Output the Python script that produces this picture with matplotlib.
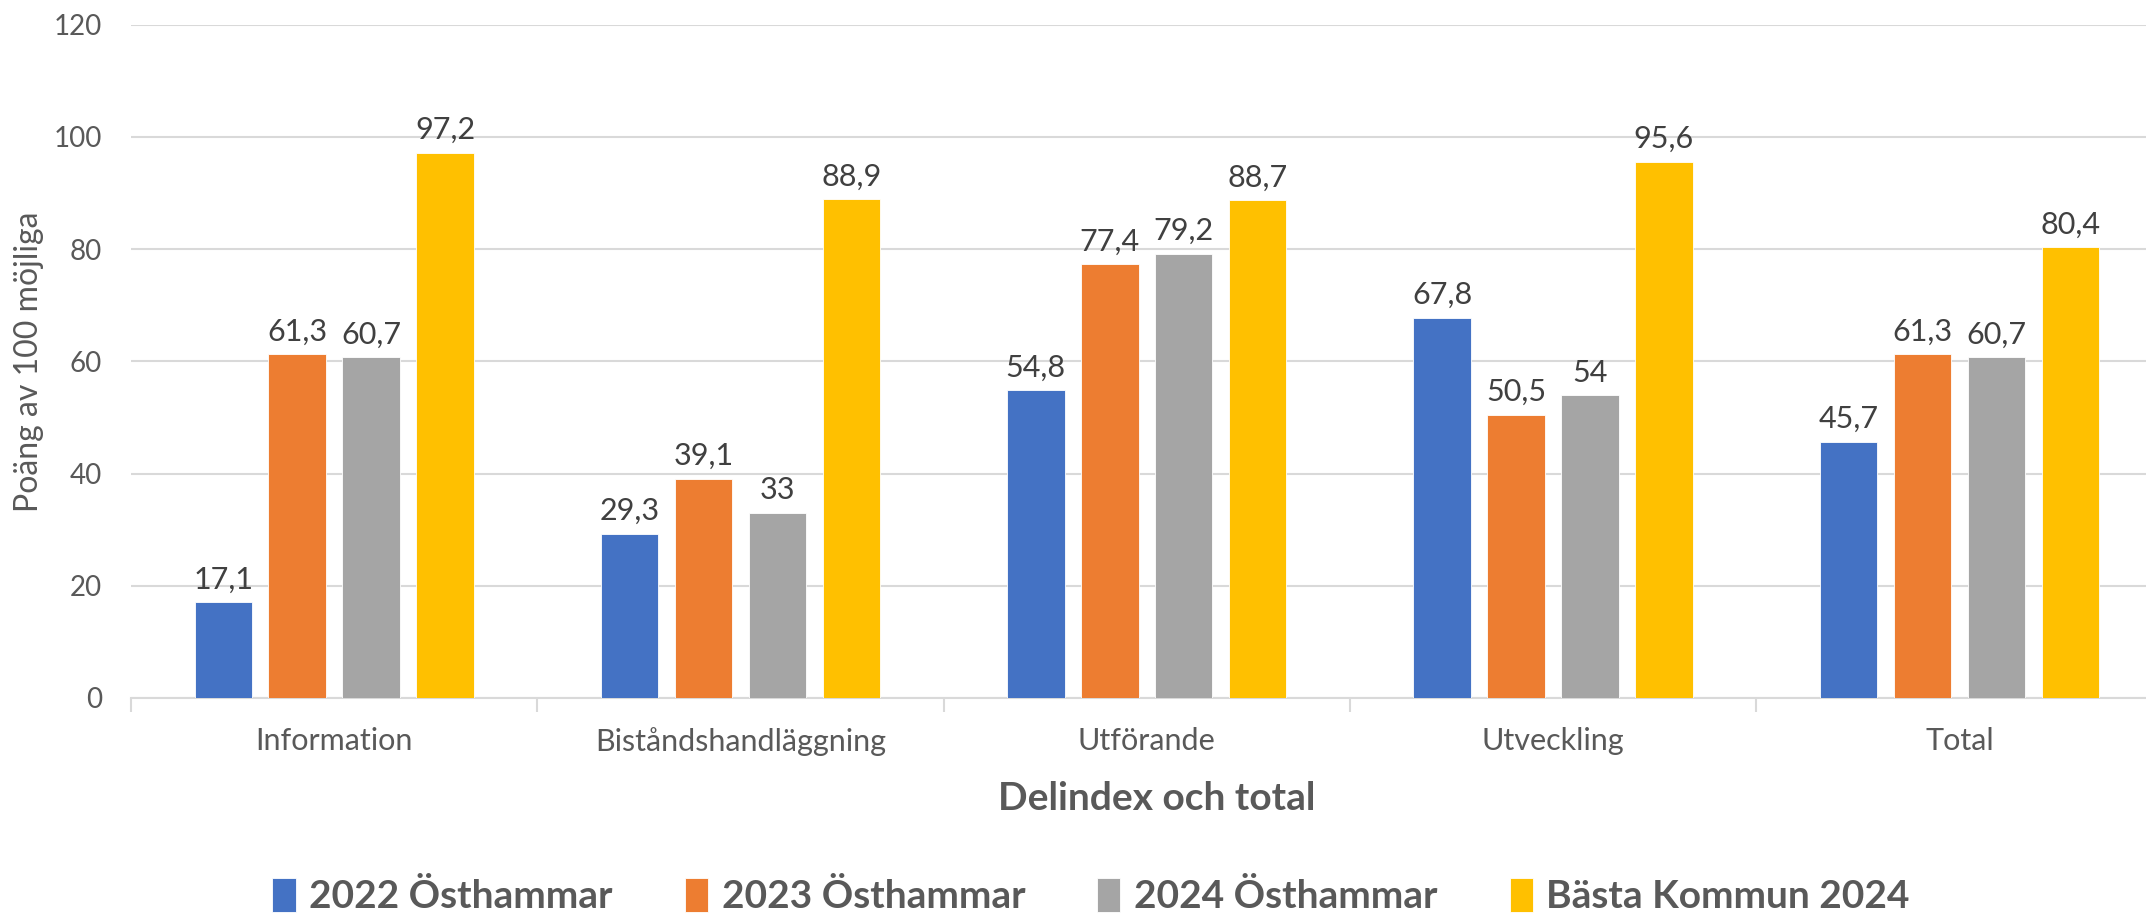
import matplotlib
matplotlib.use("Agg")
import matplotlib.pyplot as plt
import numpy as np

categories = ["Information", "Biståndshandläggning", "Utförande", "Utveckling", "Total"]
series_names = ["2022 Östhammar", "2023 Östhammar", "2024 Östhammar", "Bästa Kommun 2024"]
v2022 = [17.1, 29.3, 54.8, 67.8, 45.7]
v2023 = [61.3, 39.1, 77.4, 50.5, 61.3]
v2024 = [60.7, 33.0, 79.2, 54.0, 60.7]
vbest = [97.2, 88.9, 88.7, 95.6, 80.4]
yticks = [0, 20, 40, 60, 80, 100, 120]

colors = ["#4472C4", "#ED7D31", "#A5A5A5", "#FFC000"]
text_color = "#595959"
grid_color = "#D9D9D9"

plt.rcParams['font.family'] = ['Lato', 'DejaVu Sans']

fig = plt.figure(figsize=(21.46, 9.13), dpi=100)
left = 131 / 2146
right = 2162.5 / 2146
bottom = 1 - 698 / 913
top = 1 - 24.6 / 913
ax = fig.add_axes([left, bottom, right - left, top - bottom])
ax_w_px = 2162.5 - 131

x = np.arange(len(categories))
width = 0.1414
step = 0.182
all_series = [v2022, v2023, v2024, vbest]
handles = []
for i, (vals, c, name) in enumerate(zip(all_series, colors, series_names)):
    off = (i - 1.5) * step
    bars = ax.bar(x + off, vals, width, color=c, label=name, edgecolor="white", linewidth=0.6, zorder=3)
    handles.append(bars)
    for xi, v in zip(x + off, vals):
        lbl = f"{v:g}".replace(".", ",")
        ax.annotate(lbl, (xi, v), xytext=(0, 6), textcoords="offset points",
                    ha="center", va="bottom", fontsize=22, color="#404040")

ax.set_xlim(-0.5, len(categories) - 0.5)
ax.set_ylim(0, 120)
ax.set_yticks(yticks)
ax.set_yticklabels([str(t) for t in yticks], fontsize=20, color=text_color)
ax.yaxis.grid(True, color=grid_color, linewidth=1.5, zorder=0)
ax.tick_params(axis='y', length=0, pad=21)

ax.set_xticks(x)
ax.set_xticklabels(categories, fontsize=22, color=text_color)
ax.tick_params(axis='x', which='major', length=0, pad=21)
ax.set_xticks(np.arange(-0.5, len(categories)), minor=True)
ax.tick_params(axis='x', which='minor', length=10, color=grid_color, width=1.5)

for s in ["top", "right", "left"]:
    ax.spines[s].set_visible(False)
ax.spines["bottom"].set_color(grid_color)
ax.spines["bottom"].set_linewidth(1.5)

ax.set_ylabel("Poäng av 100 möjliga", fontsize=23, color=text_color)
ax.yaxis.set_label_coords(-(131 - 44) / ax_w_px, 0.5)
ax.set_xlabel("Delindex och total", fontsize=28, fontweight="bold", color=text_color, labelpad=18)
ax.xaxis.label.set_x((1156.5 - 131) / ax_w_px)

leg = fig.legend(handles=handles, labels=series_names, loc="center", bbox_to_anchor=(0.5084, 1 - 896 / 913),
                 ncol=4, frameon=False, fontsize=28, handlelength=0.6, handleheight=1.0,
                 handletextpad=0.35, columnspacing=1.85)
for t in leg.get_texts():
    t.set_fontweight("bold")
    t.set_color(text_color)

fig.savefig("out.png", dpi=100, facecolor="white")
